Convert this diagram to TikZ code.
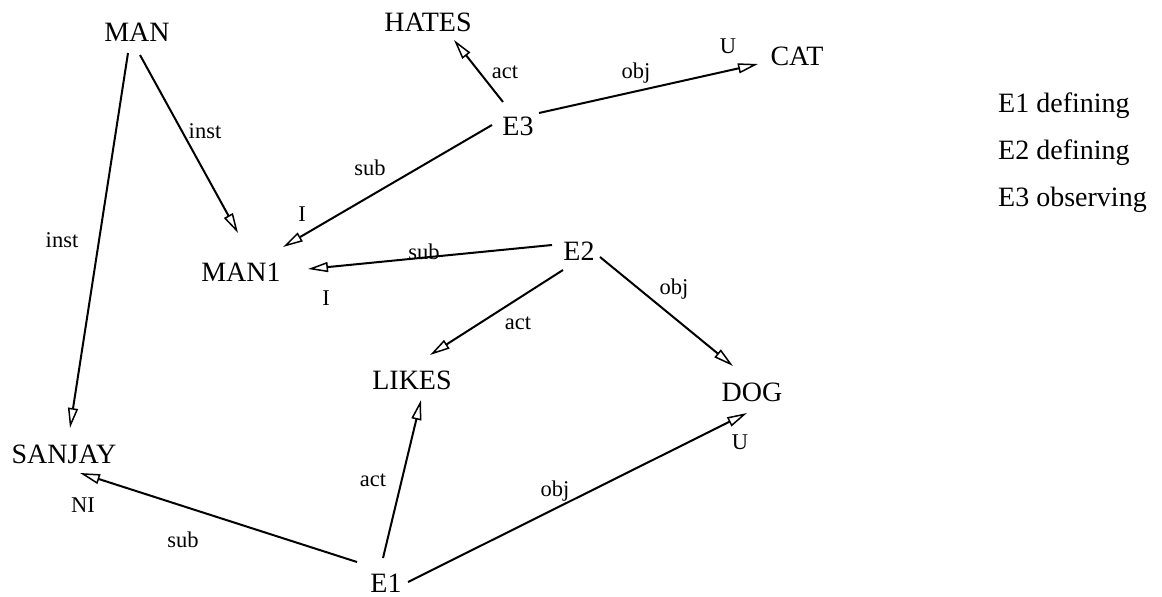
\documentclass[tikz,border=0pt]{standalone}
\usepackage{fontspec}
\setmainfont{Liberation Serif}
\usetikzlibrary{arrows.meta,calc}
\tikzset{
  nd/.style={inner sep=0pt,font=\fontsize{28}{32}\selectfont},
  lb/.style={inner sep=0pt,font=\fontsize{22.5}{26}\selectfont},
  arr/.style={draw,line width=2pt,-{Triangle[open,length=20pt,width=10pt,line width=1.5pt]}},
}
\begin{document}
\begin{tikzpicture}[x=1pt,y=-1pt]
\useasboundingbox (0,0) rectangle (1162,597);
% nodes
\node[nd] (MAN) at (137,32) {MAN};
\node[nd] (HATES) at (428,22) {HATES};
\node[nd] (CAT) at (797,56) {CAT};
\node[nd] (E3) at (518,126) {E3};
\node[nd] (MAN1) at (241,272) {MAN1};
\node[nd] (E2) at (579,251) {E2};
\node[nd] (LIKES) at (412,380) {LIKES};
\node[nd] (DOG) at (752,392) {DOG};
\node[nd] (SANJAY) at (64,454) {SANJAY};
\node[nd] (E1) at (386,583) {E1};
% legend
\node[nd,anchor=base west] (L1) at (998,112) {E1 defining};
\node[nd,anchor=base west] (L2) at (998,159) {E2 defining};
\node[nd,anchor=base west] (L3) at (998,206) {E3 observing};
% edges
\draw[arr] ($(MAN)+(-9,21)$) -- ($(SANJAY)+(6,-26)$);
\draw[arr] ($(MAN)+(3,23)$) -- ($(MAN1)+(-3,-39)$);
\draw[arr] ($(E3)+(-15,-24)$) -- ($(HATES)+(26,18)$);
\draw[arr] ($(E3)+(21,-13)$) -- ($(CAT)+(-39,8)$);
\draw[arr] ($(E3)+(-26,-1)$) -- ($(MAN1)+(42,-25)$);
\draw[arr] ($(E2)+(-27,-6)$) -- ($(MAN1)+(67,-3)$);
\draw[arr] ($(E2)+(-16,19)$) -- ($(LIKES)+(18,-25)$);
\draw[arr] ($(E2)+(21,6)$) -- ($(DOG)+(-19,-26)$);
\draw[arr] ($(E1)+(-29,-21)$) -- ($(SANJAY)+(16,19)$);
\draw[arr] ($(E1)+(-3,-25)$) -- ($(LIKES)+(9,20)$);
\draw[arr] ($(E1)+(22,-1)$) -- ($(DOG)+(-5,21)$);
% labels
\node[lb] (l1) at (62,240) {inst};
\node[lb] (l2) at (205,131) {inst};
\node[lb] (l3) at (505,72) {act};
\node[lb] (l4) at (636,73) {obj};
\node[lb] (l5) at (728,46) {U};
\node[lb] (l6) at (370,168) {sub};
\node[lb] (l7) at (302,214) {I};
\node[lb] (l8) at (424,252) {sub};
\node[lb] (l9) at (326,298) {I};
\node[lb] (l10) at (518,323) {act};
\node[lb] (l11) at (674,289) {obj};
\node[lb] (l12) at (740,442) {U};
\node[lb] (l13) at (373,480) {act};
\node[lb] (l14) at (555,491) {obj};
\node[lb] (l15) at (83,505) {NI};
\node[lb] (l16) at (183,540) {sub};
\end{tikzpicture}
\end{document}
